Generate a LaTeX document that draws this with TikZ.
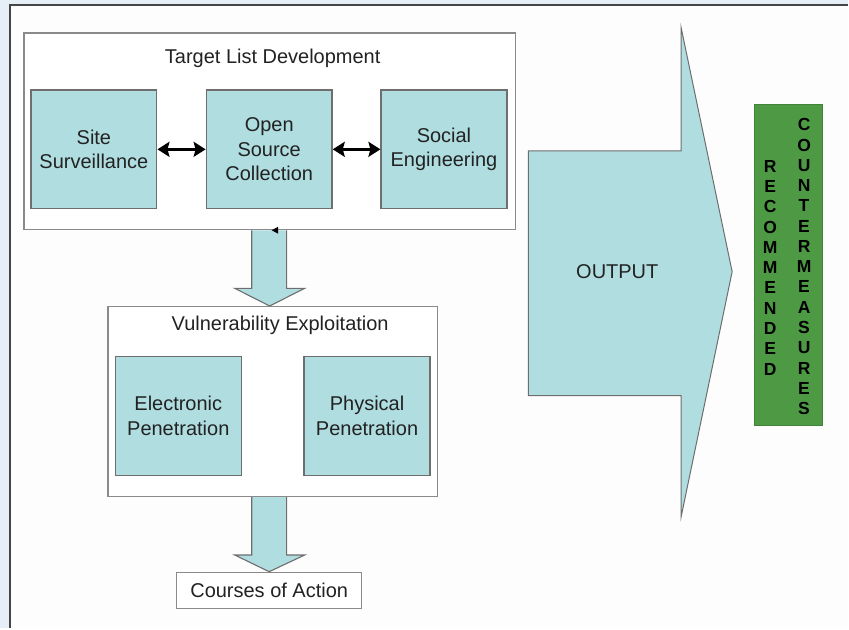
\documentclass[tikz,border=0pt]{standalone}
\usepackage{fontspec}
\setmainfont{Liberation Sans}
\usetikzlibrary{arrows.meta,calc}
\definecolor{pagebg}{HTML}{E6EEF8}
\definecolor{sheet}{HTML}{FDFDFD}
\definecolor{frameline}{HTML}{454545}
\definecolor{teal}{HTML}{B0DDE0}
\definecolor{boxline}{HTML}{6E6E6E}
\definecolor{groupline}{HTML}{8A8A8A}
\definecolor{leaf}{HTML}{4E9A44}
\definecolor{ink}{HTML}{222222}
\begin{document}
\begin{tikzpicture}[x=1pt,y=-1pt,
  txt/.style={font=\fontsize{20}{24.5}\selectfont, text=ink, align=center},
  groupbox/.style={draw=groupline, line width=1.3pt, fill=white, inner sep=0pt},
  tealbox/.style={txt, draw=boxline, line width=1.3pt, fill=teal, inner sep=0pt,
                  minimum width=126pt, minimum height=119pt},
  blockarrow/.style={draw=boxline, line width=1.1pt, fill=teal, line join=miter},
  linkarrow/.style={arrows={Stealth[length=12pt,width=15pt,inset=2pt]-Stealth[length=12pt,width=15pt,inset=2pt]},
                    line width=3.5pt, draw=black},
  letters/.style={font=\fontsize{17.5}{20.3}\selectfont\bfseries, text=black, align=center, inner sep=0pt}
]
% page background and sheet
\fill[pagebg] (0,0) rectangle (849,629);
\fill[sheet] (10,5) rectangle (849,629);
\draw[frameline, line width=2pt] (10,629) -- (10,5) -- (849,5);
\useasboundingbox (0,0) rectangle (849,629);

% Target list development group
\node[groupbox, minimum width=492pt, minimum height=197pt] (tld) at (270,131.5) {};
\node[txt] (tldtitle) at (273,58) {Target List Development};
\node[tealbox] (site) at (94,149.5) {Site\\Surveillance};
\node[tealbox] (open) at (269.5,149.5) {Open\\Source\\Collection};
\node[tealbox] (social) at (444.5,149.5) {Social\\Engineering};
\draw[linkarrow] (site.east) -- (open.west);
\draw[linkarrow] (open.east) -- (social.west);

% Vulnerability exploitation group
\node[groupbox, minimum width=330pt, minimum height=190pt] (vul) at (273,402) {};
\node[txt] (vultitle) at (280.5,326) {Vulnerability Exploitation};
\node[tealbox] (elec) at (178.5,416.5) {Electronic\\Penetration};
\node[tealbox] (phys) at (367.5,416.5) {Physical\\Penetration};

% Courses of action
\node[txt, draw=groupline, line width=1.3pt, fill=white, inner sep=0pt,
      minimum width=185pt, minimum height=36pt] (coa) at (269.5,591) {Courses of Action};

% block arrow: target list -> vulnerability
\draw[blockarrow]
  ($(tld.south)+(-18,0)$) -- ($(tld.south)+(-18,58)$) -- ($(tld.south)+(-35,58)$)
  -- (vul.north -| tld.south)
  -- ($(tld.south)+(35,58)$) -- ($(tld.south)+(17,58)$) -- ($(tld.south)+(17,0)$);
% small arrowhead sitting on the group border
\coordinate (tick) at (272,230.5);
\fill[black] (tick) -- ++(6.5,-3.5) -- ++(0,7) -- cycle;

% block arrow: vulnerability -> courses of action
\draw[blockarrow]
  ($(vul.south -| coa.north)+(-17.5,0)$) -- ($(vul.south -| coa.north)+(-17.5,58)$)
  -- ($(vul.south -| coa.north)+(-34.5,58)$) -- (coa.north)
  -- ($(vul.south -| coa.north)+(35.5,58)$) -- ($(vul.south -| coa.north)+(17.5,58)$)
  -- ($(vul.south -| coa.north)+(17.5,0)$);

% large output arrow
\draw[blockarrow, line width=1pt]
  (529,151) -- (682,151) -- (682,28) -- (733,272) -- (682,517) -- (682,396) -- (529,396) -- cycle;
\node[txt] (out) at (618,272) {OUTPUT};

% recommended countermeasures
\node[fill=leaf, draw=leaf!85!black, line width=0.4pt, minimum width=68pt, minimum height=322pt,
      inner sep=0pt] (rc) at (789,265) {};
\node[letters] (rec) at (771,268) {R\\E\\C\\O\\M\\M\\E\\N\\D\\E\\D};
\node[letters] (cm) at (805,267) {C\\O\\U\\N\\T\\E\\R\\M\\E\\A\\S\\U\\R\\E\\S};
\end{tikzpicture}
\end{document}
